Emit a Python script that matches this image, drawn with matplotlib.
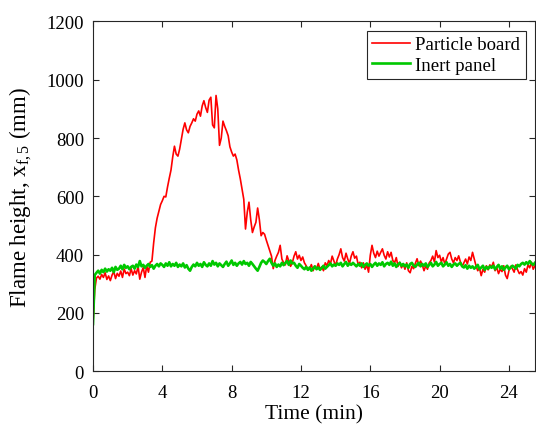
import numpy as np
import matplotlib
matplotlib.use("Agg")
import matplotlib.pyplot as plt

plt.rcParams['font.family'] = ['Liberation Serif', 'DejaVu Serif']
plt.rcParams['mathtext.fontset'] = 'custom'
plt.rcParams['mathtext.rm'] = 'Liberation Serif'
plt.rcParams['mathtext.it'] = 'Liberation Serif:italic'

# time axis, minutes (0.1 min steps)
time_min = np.round(np.arange(0, 25.55, 0.1), 1)

# flame height, particle board (mm)
particle_board = [
    165, 280, 320, 326, 316, 332, 322, 338, 315, 327,
    311, 330, 342, 318, 336, 326, 344, 322, 351, 335,
    340, 328, 352, 330, 345, 334, 360, 316, 340, 356,
    322, 362, 340, 374, 378, 440, 492, 525, 548, 572,
    585, 600, 598, 632, 662, 690, 735, 772, 745, 738,
    762, 796, 830, 852, 828, 818, 840, 852, 866, 858,
    882, 893, 875, 910, 928, 905, 888, 930, 940, 845,
    835, 946, 900, 775, 800, 858, 840, 825, 808, 770,
    752, 738, 745, 725, 690, 660, 625, 590, 488, 545,
    580, 520, 476, 495, 511, 560, 520, 465, 476, 470,
    450, 432, 415, 395, 352, 380, 395, 408, 432, 385,
    372, 365, 396, 378, 360, 372, 395, 410, 385, 398,
    380, 392, 372, 362, 348, 352, 366, 345, 360, 352,
    370, 350, 358, 345, 372, 362, 380, 368, 395, 378,
    362, 385, 400, 420, 390, 378, 405, 385, 370, 395,
    410, 388, 395, 366, 374, 355, 372, 350, 365, 340,
    398, 432, 405, 390, 412, 395, 408, 420, 398, 385,
    410, 392, 408, 380, 372, 390, 360, 374, 355, 368,
    350, 372, 345, 338, 360, 352, 370, 386, 362, 378,
    365, 345, 362, 350, 372, 380, 395, 375, 414, 390,
    398, 375, 390, 368, 385, 402, 408, 385, 372, 390,
    380, 396, 375, 360, 372, 385, 368, 392, 380, 408,
    385, 362, 345, 355, 328, 350, 340, 362, 348, 365,
    358, 374, 345, 356, 335, 350, 342, 362, 330, 318,
    345, 360, 352, 340, 365, 348, 335, 342, 330, 352,
    340, 365, 355, 374, 350, 362,
]

# flame height, inert panel (mm)
inert_panel = [
    162, 330, 338, 345, 335, 348, 340, 352, 342, 350,
    345, 355, 340, 358, 348, 352, 362, 350, 365, 355,
    360, 350, 358, 362, 352, 366, 358, 378, 360, 365,
    355, 362, 368, 358, 364, 352, 362, 368, 360, 370,
    365, 358, 370, 362, 374, 360, 368, 362, 372, 358,
    366, 360, 370, 356, 364, 352, 345, 358, 366, 360,
    372, 362, 368, 358, 374, 365, 360, 370, 362, 378,
    366, 372, 360, 370, 364, 358, 368, 376, 362, 370,
    380, 365, 372, 362, 370, 375, 366, 378, 368, 372,
    362, 375, 368, 360, 352, 345, 358, 372, 380, 375,
    368, 378, 386, 372, 362, 370, 358, 366, 360, 372,
    364, 372, 378, 365, 380, 370, 372, 362, 355, 368,
    362, 355, 350, 358, 348, 356, 345, 352, 360, 350,
    356, 348, 355, 362, 352, 358, 364, 370, 360, 366,
    362, 370, 365, 372, 360, 368, 375, 362, 370, 365,
    372, 366, 360, 368, 362, 370, 358, 365, 370, 362,
    368, 358, 366, 372, 362, 370, 365, 374, 360, 368,
    372, 365, 376, 362, 370, 358, 366, 372, 362, 368,
    360, 366, 355, 368, 372, 362, 358, 366, 372, 360,
    368, 362, 370, 358, 365, 372, 360, 366, 375, 362,
    368, 372, 360, 366, 374, 362, 368, 358, 366, 370,
    362, 368, 372, 360, 356, 364, 352, 362, 355, 360,
    352, 358, 365, 350, 356, 362, 348, 358, 352, 360,
    355, 362, 350, 358, 365, 352, 360, 348, 356, 362,
    350, 356, 362, 358, 352, 365, 360, 368, 372, 366,
    374, 368, 378, 370, 365, 372,
]

x_ticks = [0, 4, 8, 12, 16, 20, 24]
y_ticks = [0, 200, 400, 600, 800, 1000, 1200]

fig = plt.figure(figsize=(5.36, 4.31), dpi=100)
ax = fig.add_axes([0.1735, 0.1362, 0.8245, 0.8118])

ax.plot(time_min, particle_board, color='#ff0000', lw=1.2, label='Particle board')
ax.plot(time_min, inert_panel, color='#00c800', lw=1.9, label='Inert panel')

ax.set_xlim(0, 25.5)
ax.set_ylim(0, 1200)
ax.set_xticks(x_ticks)
ax.set_yticks(y_ticks)
ax.tick_params(direction='in', top=True, right=True, labelsize=13.5,
               length=4, width=0.8, colors='#262626', labelcolor='black')
ax.tick_params(axis='x', pad=9.5)
ax.tick_params(axis='y', pad=6.5)
for s in ax.spines.values():
    s.set_color('#262626')
    s.set_linewidth(0.8)

ax.set_xlabel('Time (min)', fontsize=15.5, labelpad=2)
ax.set_ylabel(r'Flame height, x$_{\mathrm{f,5}}$ (mm)', fontsize=16.5, labelpad=9)

leg = ax.legend(loc='upper right', fontsize=13.5, frameon=True, fancybox=False,
                framealpha=1, edgecolor='#262626', handlelength=2.0,
                borderaxespad=0.5, borderpad=0.28, labelspacing=0.2,
                handletextpad=0.3)
leg.get_frame().set_linewidth(0.8)

fig.savefig('out.png', dpi=100)
